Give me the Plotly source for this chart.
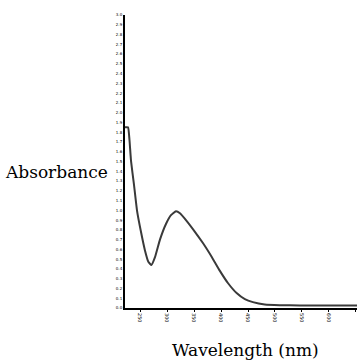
import plotly.graph_objects as go

# Wavelength (nm) and absorbance
wavelength = [222, 227.6, 230.3, 233.1, 238.7, 244.2, 251.6, 259, 265.5, 271, 277.6,
              286.8, 297.9, 307.2, 316.4, 323.9, 335, 351.6, 366.4, 383.1, 397.9,
              412.7, 429.4, 444.2, 459, 481, 509, 546, 602, 652]
absorbance = [1.85, 1.85, 1.72, 1.51, 1.26, 1.00, 0.78, 0.59, 0.47, 0.44, 0.52,
              0.70, 0.86, 0.95, 0.99, 0.97, 0.90, 0.78, 0.665, 0.52, 0.38,
              0.256, 0.15, 0.09, 0.06, 0.036, 0.029, 0.026, 0.026, 0.026]

x_ticks = [250, 300, 350, 400, 450, 500, 550, 600, 650]
y_ticks = [round(0.1 * i, 1) for i in range(0, 31)]

fig = go.Figure()
fig.add_trace(go.Scatter(
    x=wavelength, y=absorbance, mode="lines",
    line=dict(color="#3a3a3a", width=2, shape="spline", smoothing=0.4),
    hoverinfo="skip", showlegend=False,
))

fig.update_layout(
    width=357, height=362,
    margin=dict(l=125, r=0, t=15, b=54),
    paper_bgcolor="white", plot_bgcolor="white",
    xaxis=dict(range=[222, 652], showgrid=False, zeroline=False, automargin=False,
               showline=True, linecolor="black", linewidth=2,
               tickvals=x_ticks, ticktext=[str(v) for v in x_ticks],
               tickangle=90, tickfont=dict(size=5, color="black", family="DejaVu Sans"),
               ticks="outside", ticklen=2, tickcolor="black"),
    yaxis=dict(range=[0, 3.0], showgrid=False, zeroline=False, automargin=False,
               showline=True, linecolor="black", linewidth=2,
               tickvals=y_ticks, ticktext=[str(v) for v in y_ticks],
               tickfont=dict(size=4, color="black", family="DejaVu Sans"),
               ticks=""),
    annotations=[
        dict(text="Absorbance", xref="paper", yref="paper", x=-0.065, y=0.464,
             xanchor="right", yanchor="middle", showarrow=False,
             font=dict(family="DejaVu Serif", size=17, color="black")),
        dict(text="Wavelength (nm)", xref="paper", yref="paper", x=0.52, y=-0.143,
             xanchor="center", yanchor="middle", showarrow=False,
             font=dict(family="DejaVu Serif", size=17, color="black")),
    ],
)

fig.write_html("out.html", config={"displayModeBar": False},
               post_script="document.body.style.margin='0';document.body.style.overflow='hidden';")
